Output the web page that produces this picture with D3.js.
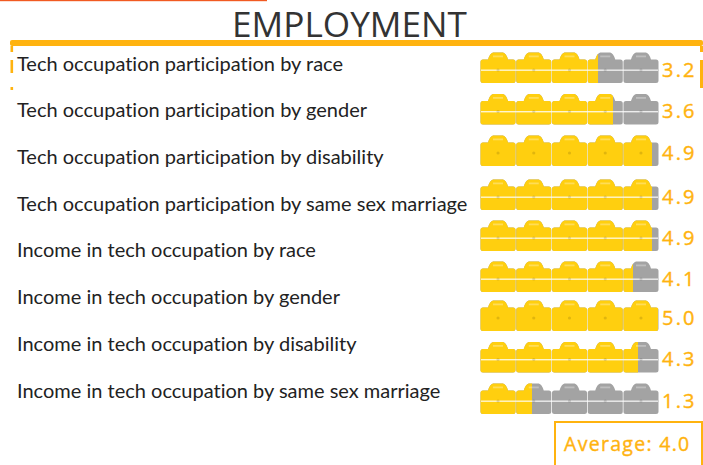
<!DOCTYPE html>
<html><head><meta charset="utf-8">
<style>html,body{margin:0;padding:0;background:#fff}svg{display:block}</style>
<script src="https://cdn.jsdelivr.net/npm/d3@7"></script></head>
<body><svg id="c" width="703" height="465"></svg>
<script>
const titleText = "EMPLOYMENT";
const categories = [
 "Tech occupation participation by race",
 "Tech occupation participation by gender",
 "Tech occupation participation by disability",
 "Tech occupation participation by same sex marriage",
 "Income in tech occupation by race",
 "Income in tech occupation by gender",
 "Income in tech occupation by disability",
 "Income in tech occupation by same sex marriage"];
const scores = [3.2,3.6,4.9,4.9,4.9,4.1,5.0,4.3,1.3];
const seams = [1,1,0,1,1,1,0,1,1];
const averageLabel = "Average: 4.0";
const icons = [0,1,2,3,4];

const YEL="#FFCF0F", GRY="#A3A3A3", ORG="#FFB30F";
const svg=d3.select("#c");
const labelFont="Lato,sans-serif", numFont="'Open Sans',sans-serif";

// scales
const xScore=d3.scaleLinear().domain([0,1.3,3.2,3.6,4.1,4.3,4.9,5]).range([481,532,598,613,633,638,652,658]);
const xIcon=d3.scaleBand().domain(icons).range([480.5,658.5]).paddingInner(0.02);
const yRow=d3.scaleLinear().domain([0,2,3,5,6,8]).range([52,135,179,261,300,383]);
const yLabel=d3.scalePoint().domain(categories).range([64,391]);

// top accent, title
svg.append("rect").attr("x",0).attr("y",0).attr("width",267).attr("height",1.2).attr("fill","#F15A22");
svg.append("text").attr("x",349.5).attr("y",37).attr("text-anchor","middle")
  .attr("font-family",numFont).attr("font-size",35.2).attr("fill","#333").text(titleText);

// frame
svg.append("rect").attr("x",10).attr("y",40).attr("width",693).attr("height",6).attr("rx",2).attr("fill",ORG);
[[46,52],[60,73],[87,90]].forEach(([a,b])=>svg.append("rect").attr("x",10.5).attr("y",a).attr("width",2.6).attr("height",b-a).attr("fill",ORG));
[[46,52],[60,88]].forEach(([a,b])=>svg.append("rect").attr("x",700).attr("y",a).attr("width",3).attr("height",b-a).attr("fill",ORG));

// labels
svg.append("g").selectAll("text").data(categories).join("text")
  .attr("x",17).attr("y",d=>yLabel(d)+6.5)
  .attr("font-family",labelFont).attr("font-size",20).attr("fill","#222")
  .style("font-variant-ligatures","none").text(d=>d);

// briefcase shape
function brief(x,w){
  const h=31, p=d3.path(), bt=7.5, r=2.5, c=x+w/2;
  p.moveTo(x+r,bt); p.lineTo(c-10,bt);
  p.quadraticCurveTo(c-8,1,c-5,0.5); p.lineTo(c+5,0.5);
  p.quadraticCurveTo(c+8,1,c+10,bt);
  p.lineTo(x+w-r,bt); p.quadraticCurveTo(x+w,bt,x+w,bt+r);
  p.lineTo(x+w,h-r); p.quadraticCurveTo(x+w,h,x+w-r,h);
  p.lineTo(x+r,h); p.quadraticCurveTo(x,h,x,h-r);
  p.lineTo(x,bt+r); p.quadraticCurveTo(x,bt,x+r,bt); p.closePath();
  return p.toString();
}

const rows=svg.append("g").selectAll("g").data(scores).join("g")
  .attr("transform",(d,i)=>`translate(0,${yRow(i)})`);

const defs=svg.append("defs");
scores.forEach((v,i)=>{
  defs.append("clipPath").attr("id","clip"+i).append("rect")
    .attr("x",470).attr("y",-3).attr("width",xScore(v)-470).attr("height",40);
});
function drawLayer(sel,color,clip){
  const g=sel.append("g").attr("clip-path",clip);
  g.selectAll("path").data(icons).join("path")
    .attr("d",k=>brief(xIcon(k),xIcon.bandwidth())).attr("fill",color);
  g.selectAll("rect").data(icons).join("rect")
    .attr("x",k=>xIcon(k)+xIcon.bandwidth()/2-5).attr("y",3.5).attr("width",10).attr("height",1.8)
    .attr("fill","#fff").attr("opacity",.3);
}
rows.each(function(v,i){
  const s=d3.select(this);
  drawLayer(s,GRY,null);
  drawLayer(s,YEL,`url(#clip${i})`);
  if(seams[i]) s.append("rect").attr("x",481).attr("y",17.5).attr("width",177).attr("height",1.4).attr("fill","#fff").attr("opacity",.8);
  s.selectAll("circle").data(icons).join("circle")
    .attr("cx",k=>xIcon(k)+xIcon.bandwidth()/2).attr("cy",18).attr("r",1.6)
    .attr("fill","#000").attr("opacity",.12);
});

// score numbers
rows.append("text").attr("x",662).attr("y",24.5)
  .attr("font-family",numFont).attr("font-size",20).attr("letter-spacing",2.2)
  .attr("stroke",ORG).attr("stroke-width",0.4)
  .attr("fill",ORG).text(d=>d.toFixed(1));

// average box
svg.append("rect").attr("x",555).attr("y",422).attr("width",147).attr("height",46).attr("fill","none").attr("stroke",ORG).attr("stroke-width",2);
svg.append("text").attr("x",564).attr("y",451)
  .attr("font-family",numFont).attr("font-size",19.5).attr("letter-spacing",1.3)
  .attr("stroke",ORG).attr("stroke-width",0.4)
  .attr("fill",ORG).text(averageLabel);
</script>
</body></html>
